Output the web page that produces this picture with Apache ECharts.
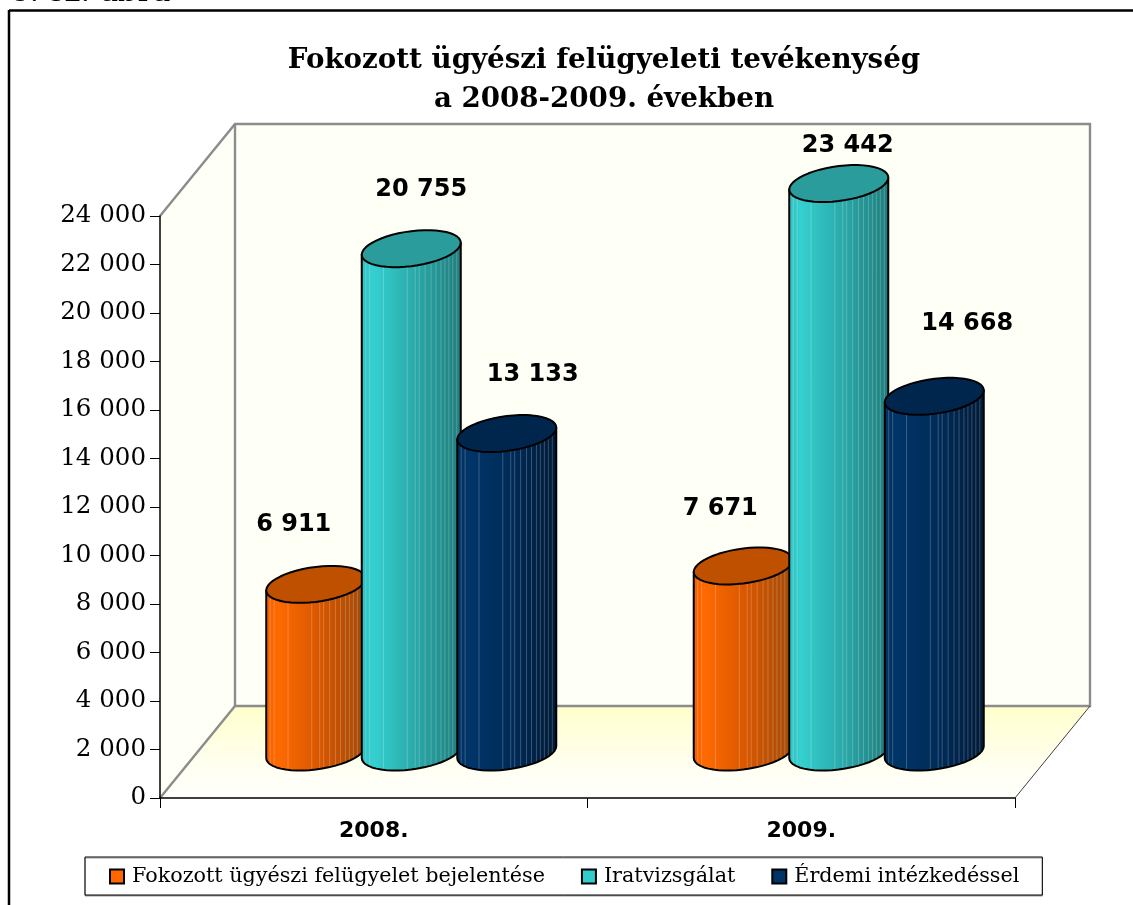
<!DOCTYPE html>
<html>
<head>
<meta charset="utf-8">
<style>html,body{margin:0;padding:0;background:#fff}#c{width:1133px;height:905px}</style>
<script src="https://cdn.jsdelivr.net/npm/echarts@6/dist/echarts.min.js"></script>
</head>
<body>
<div id="c"></div>
<script>
const categories = ['2008.', '2009.'];
const seriesNames = ['Fokozott ügyészi felügyelet bejelentése', 'Iratvizsgálat', 'Érdemi intézkedéssel'];
const bejelentes = [6911, 7671];
const iratvizsgalat = [20755, 23442];
const erdemi = [13133, 14668];
const yTicks = { min: 0, max: 24000, interval: 2000 };
const titleText = 'Fokozott ügyészi felügyeleti tevékenység\na 2008-2009. években';
const captionText = '8. sz. ábra';

// styling and layout
const DEPTH_X = 75, DEPTH_Y = 92;
const serif = '"DejaVu Serif", serif', sans = '"DejaVu Sans", sans-serif';
const looks = [
  { legend: '#FF6600', cap: '#BF5000', side: [[0, '#F06000'], [0.12, '#FF6A00'], [0.55, '#D65600'], [1, '#A04A08']] },
  { legend: '#33CCCC', cap: '#2A9C9C', side: [[0, '#2FC0C0'], [0.12, '#35D0D0'], [0.55, '#2AA8A8'], [1, '#1F7C7C']] },
  { legend: '#003366', cap: '#00264D', side: [[0, '#003060'], [0.12, '#003568'], [0.55, '#002B58'], [1, '#001A36']] }
];
const stripes = [0.04, 0.08, 0.22, 0.46, 0.54, 0.58, 0.64, 0.7, 0.75, 0.8, 0.84, 0.88, 0.92, 0.96];
// hand-placed value labels, relative to each cylinder's top centre: [dx, dy]
const labelShift = [
  [[-22, -60], [-23, -57]],
  [[10, -59], [9, -38]],
  [[26, -59], [33, -73]]
];

const dither = document.createElement('canvas');
dither.width = 4; dither.height = 4;
(function () {
  const g = dither.getContext('2d');
  g.fillStyle = '#FFFFFA'; g.fillRect(0, 0, 4, 4);
  g.fillStyle = '#FFFFE2';
  g.fillRect(0, 0, 1, 1); g.fillRect(2, 2, 1, 1);
})();
const wallFill = { image: dither, repeat: 'repeat' };

function renderWalls(params) {
  const c = params.coordSys;
  const L = c.x, R = c.x + c.width, T = c.y, B = c.y + c.height;
  const grey = { stroke: '#8C8C8C', lineWidth: 2.4, fill: null };
  const line = (x1, y1, x2, y2, style) => ({ type: 'line', shape: { x1, y1, x2, y2 }, style });
  return { type: 'group', children: [
    { type: 'rect', shape: { x: L + DEPTH_X, y: T - DEPTH_Y, width: c.width, height: c.height }, style: { fill: wallFill } },
    { type: 'polygon', shape: { points: [[L, T], [L + DEPTH_X, T - DEPTH_Y], [L + DEPTH_X, B - DEPTH_Y], [L, B]] }, style: { fill: wallFill } },
    { type: 'polygon', shape: { points: [[L, B], [L + DEPTH_X, B - DEPTH_Y], [R + DEPTH_X, B - DEPTH_Y], [R, B]] },
      style: { fill: new echarts.graphic.LinearGradient(0, 0, 0, 1, [{ offset: 0, color: '#FFFFCC' }, { offset: 0.75, color: '#FFFFF6' }, { offset: 1, color: '#FFFFFA' }]) } },
    { type: 'polyline', shape: { points: [[L, T], [L + DEPTH_X, T - DEPTH_Y], [R + DEPTH_X, T - DEPTH_Y], [R + DEPTH_X, B - DEPTH_Y], [L + DEPTH_X, B - DEPTH_Y], [L, B]] }, style: grey },
    line(L + DEPTH_X, T - DEPTH_Y, L + DEPTH_X, B - DEPTH_Y, grey),
    line(R, B, R + DEPTH_X, B - DEPTH_Y, { stroke: '#404040', lineWidth: 1 })
  ] };
}

function cylinderRenderer(index) {
  const look = looks[index];
  return function (params, api) {
    const cat = api.value(0), value = api.value(1);
    const band = api.size([1, 0])[0];
    const step = band * 0.2234, a = band * 0.1158, b = 17.5, s = 6;
    const cx = api.coord([cat, 0])[0] + DEPTH_X / 2 + (index - 1) * step;
    const base = api.coord([cat, 0])[1] - DEPTH_Y / 2;
    const top = api.coord([cat, value])[1] - DEPTH_Y / 2;
    const rim = (t, y0) => [cx + a * Math.cos(t), y0 + b * Math.sin(t) - s * Math.cos(t)];
    const N = 48;
    const ring = [], lower = [];
    for (let i = 0; i < N; i++) ring.push(rim(2 * Math.PI * i / N, top));
    for (let i = 0; i <= N / 2; i++) lower.push(rim(Math.PI * (1 - i / (N / 2)), base));
    const body = [[cx - a, top + s]].concat(lower, [[cx + a, top - s]]);
    const fill = new echarts.graphic.LinearGradient(0, 0, 1, 0, look.side.map(p => ({ offset: p[0], color: p[1] })));
    const children = [{ type: 'polygon', shape: { points: body }, style: { fill, stroke: '#000', lineWidth: 2, lineJoin: 'round' } }];
    stripes.forEach(f => {
      const t = Math.acos(2 * f - 1);
      const p1 = rim(t, top), p2 = rim(t, base);
      children.push({ type: 'line', shape: { x1: p1[0], y1: p1[1], x2: p2[0], y2: p2[1] - 1 }, style: { stroke: 'rgba(255,255,255,0.22)', lineWidth: 1 } });
    });
    children.push({ type: 'polygon', shape: { points: ring }, style: { fill: look.cap, stroke: '#000', lineWidth: 2, lineJoin: 'round' } });
    const shift = labelShift[index][cat];
    children.push({ type: 'text', z2: 50, style: {
      x: cx + shift[0], y: top + shift[1],
      text: String(value).replace(/\B(?=(\d{3})+$)/g, ' '),
      font: 'bold 24px ' + sans, fill: '#000', align: 'center', verticalAlign: 'middle' } });
    return { type: 'group', children };
  };
}

const cylinderSeries = [bejelentes, iratvizsgalat, erdemi].map((vals, i) => ({
  type: 'custom',
  name: seriesNames[i],
  coordinateSystem: 'cartesian2d',
  z: 3,
  itemStyle: { color: looks[i].legend, borderColor: '#000', borderWidth: 1.5 },
  encode: { x: 0, y: 1 },
  renderItem: cylinderRenderer(i),
  data: vals.map((v, c) => [c, v])
}));

const chart = echarts.init(document.getElementById('c'), null, { renderer: 'canvas' });
chart.setOption({
  animation: false,
  backgroundColor: '#fff',
  title: [
    { text: titleText, left: 599, top: 36, textAlign: 'center',
      textStyle: { fontFamily: serif, fontWeight: 'bold', fontSize: 27.7, lineHeight: 39, color: '#000' } },
    { text: captionText, left: 10, top: -22, padding: 0,
      textStyle: { fontFamily: serif, fontWeight: 'normal', fontSize: 30.5, color: '#000' } }
  ],
  grid: { left: 160, right: 118, top: 216, bottom: 107, containLabel: false },
  legend: {
    left: 85, top: 857, padding: [9, 23, 8, 24], itemGap: 36,
    itemWidth: 14, itemHeight: 14, icon: 'rect',
    borderColor: '#000', borderWidth: 1, backgroundColor: '#fff',
    shadowColor: '#999', shadowOffsetY: 1, shadowBlur: 0,
    data: seriesNames,
    textStyle: { fontFamily: serif, fontSize: 20.7, color: '#000', padding: [0, 0, 0, 3] }
  },
  xAxis: {
    type: 'category', data: categories, z: 5,
    axisLine: { onZero: false, lineStyle: { color: '#000', width: 1.5 } },
    axisTick: { show: true, length: 10, lineStyle: { color: '#000', width: 1 } },
    axisLabel: { margin: 22, fontFamily: sans, fontWeight: 'bold', fontSize: 22, color: '#000' },
    splitLine: { show: false }
  },
  yAxis: {
    type: 'value', min: yTicks.min, max: yTicks.max, interval: yTicks.interval, z: 5,
    axisLine: { show: true, lineStyle: { color: '#000', width: 1.5 } },
    axisTick: { show: true, length: 10, lineStyle: { color: '#000', width: 1 } },
    axisLabel: { margin: 14, fontFamily: serif, fontSize: 24.5, color: '#000', padding: [0, 0, 8, 0],
      formatter: v => String(v).replace(/\B(?=(\d{3})+$)/g, ' ') },
    splitLine: { show: false }
  },
  graphic: [
    { type: 'line', silent: true, z: 10, shape: { x1: 9, y1: 10.5, x2: 1133, y2: 10.5 }, style: { stroke: '#000', lineWidth: 2.5 } },
    { type: 'line', silent: true, z: 10, shape: { x1: 9, y1: 10, x2: 9, y2: 905 }, style: { stroke: '#000', lineWidth: 2.5 } }
  ],
  series: [{
    type: 'custom', coordinateSystem: 'cartesian2d', z: 1, silent: true,
    renderItem: renderWalls, data: [[0, 0]], encode: { x: 0, y: 1 }
  }].concat(cylinderSeries)
});
</script>
</body>
</html>
